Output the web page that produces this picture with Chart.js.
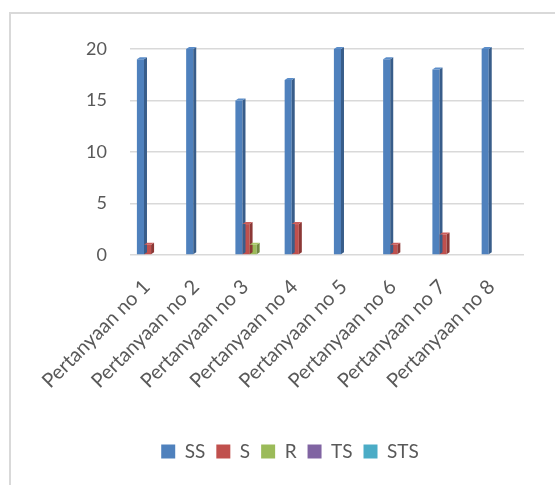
<!DOCTYPE html>
<html>
<head>
<meta charset="utf-8">
<script src="https://cdn.jsdelivr.net/npm/chart.js@4"></script>
<style>
  html, body { margin: 0; padding: 0; background: #fff; }
  #wrap { position: relative; width: 555px; height: 485px; overflow: hidden; }
  #frame { position: absolute; left: 9px; top: 12px; width: 600px; height: 600px; border: 2px solid #d9d9d9; box-sizing: border-box; }
  canvas { position: absolute; left: 0; top: 0; }
</style>
</head>
<body>
<div id="wrap">
  <div id="frame"></div>
  <canvas id="chart" width="555" height="485"></canvas>
</div>
<script>
let labels = ['Pertanyaan no 1', 'Pertanyaan no 2', 'Pertanyaan no 3', 'Pertanyaan no 4',
    'Pertanyaan no 5', 'Pertanyaan no 6', 'Pertanyaan no 7', 'Pertanyaan no 8']
let dataSS = [19, 20, 15, 17, 20, 19, 18, 20]
let dataS = [1, 0, 3, 3, 0, 1, 2, 0]
let dataR = [0, 0, 1, 0, 0, 0, 0, 0]
let dataTS = [0, 0, 0, 0, 0, 0, 0, 0]
let dataSTS = [0, 0, 0, 0, 0, 0, 0, 0]
let yTicks = [0, 5, 10, 15, 20]

const textColor = '#595959'
const fontFamily = 'Lato, "Open Sans", sans-serif'

// fake 3d: darker right side and a small top cap on each bar
const bar3d = {
    id: 'bar3d',
    afterDatasetsDraw(chart) {
        const ctx = chart.ctx
        const dx = 3, dy = 2
        chart.data.datasets.forEach((ds, i) => {
            const meta = chart.getDatasetMeta(i)
            if (meta.hidden) return
            meta.data.forEach((bar, j) => {
                if (!ds.data[j]) return
                const half = bar.width / 2
                const l = bar.x - half, r = bar.x + half
                const top = bar.y, base = bar.base
                ctx.save()
                ctx.fillStyle = ds.sideColor
                ctx.beginPath()
                ctx.moveTo(r, top)
                ctx.lineTo(r + dx, top - dy)
                ctx.lineTo(r + dx, base - dy)
                ctx.lineTo(r, base)
                ctx.closePath()
                ctx.fill()
                ctx.fillStyle = ds.topColor
                ctx.beginPath()
                ctx.moveTo(l, top)
                ctx.lineTo(l + dx, top - dy)
                ctx.lineTo(r + dx, top - dy)
                ctx.lineTo(r, top)
                ctx.closePath()
                ctx.fill()
                ctx.restore()
            })
        })
    }
}

const ctx = document.getElementById('chart').getContext('2d')
let chart = new Chart(ctx, {
    type: 'bar',
    data: {
        labels: labels,
        datasets: [
            { label: 'SS', data: dataSS, backgroundColor: '#4F81BD', sideColor: '#385D8A', topColor: '#5B8DC9' },
            { label: 'S', data: dataS, backgroundColor: '#C0504D', sideColor: '#8C3836', topColor: '#CB5E5B' },
            { label: 'R', data: dataR, backgroundColor: '#9BBB59', sideColor: '#71893F', topColor: '#A8C868' },
            { label: 'TS', data: dataTS, backgroundColor: '#8064A2', sideColor: '#5C4776', topColor: '#8D72AE' },
            { label: 'STS', data: dataSTS, backgroundColor: '#4BACC6', sideColor: '#357D91', topColor: '#5AB8D1' },
        ],
    },
    options: {
        responsive: false,
        animation: false,
        categoryPercentage: 0.72,
        barPercentage: 1.0,
        layout: {
            padding: { left: 56, right: 31, top: 49, bottom: 14 }
        },
        plugins: {
            legend: {
                position: 'bottom',
                labels: {
                    color: textColor,
                    font: { family: fontFamily, size: 19 },
                    boxWidth: 14,
                    boxHeight: 14,
                    padding: 11,
                }
            },
            tooltip: { enabled: false },
        },
        scales: {
            x: {
                grid: { display: false, drawTicks: false },
                border: { display: false },
                ticks: {
                    color: textColor,
                    font: { family: fontFamily, size: 20 },
                    minRotation: 45,
                    maxRotation: 45,
                    padding: 20,
                    labelOffset: -8,
                },
                afterFit: s => { s.height = 176 }
            },
            y: {
                min: 0,
                max: 20,
                afterBuildTicks: s => { s.ticks = yTicks.map(v => ({ value: v })) },
                grid: { color: '#d9d9d9', lineWidth: 1.5, drawTicks: false },
                border: { display: false },
                ticks: {
                    color: textColor,
                    font: { family: fontFamily, size: 18 },
                    padding: 23,
                },
                afterFit: s => { s.width = 74 }
            }
        }
    },
    plugins: [bar3d]
})
</script>
</body>
</html>
